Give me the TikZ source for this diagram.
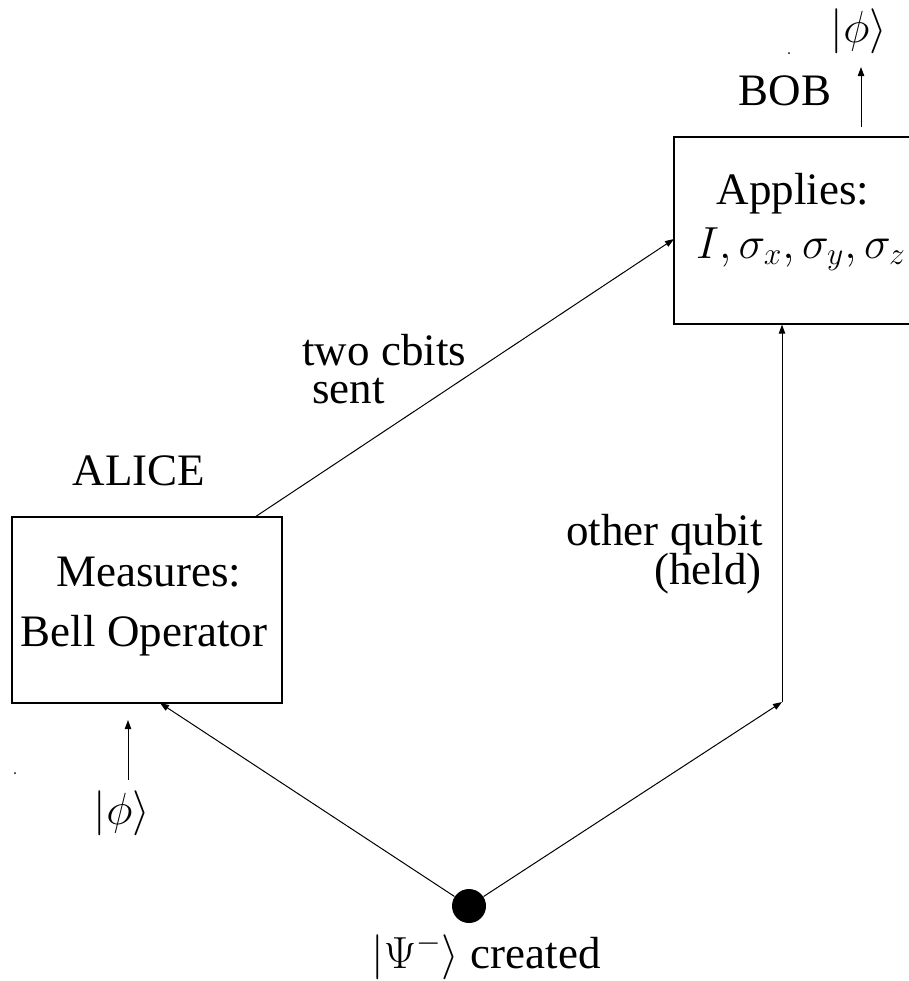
\RequirePackage{fix-cm}
\documentclass[tikz,border=0pt]{standalone}
\usepackage{fontspec}
\setmainfont{Liberation Serif}
\usetikzlibrary{arrows.meta}

\begin{document}
\begin{tikzpicture}[
        x=0.5pt, y=-0.5pt,
        font=\fontsize{22.5}{27}\selectfont,
        party/.style={draw, line width=0.6pt, inner sep=0pt},
        word/.style={inner sep=0pt, anchor=base},
        arrow/.style={-{Triangle[length=4.5pt, width=3.2pt]}, line width=0.5pt},
        speck/.style={circle, fill, inner sep=0pt, minimum size=1pt}
    ]
        \useasboundingbox (0,0) rectangle (909,981);

        % Boxes
        \node[party, minimum width=135pt, minimum height=93pt] (alice) at (147,610) {};
        \node[word] (alicetop) at (149,586) {Measures:};
        \node[word] (alicebot) at (144,646) {Bell Operator};
        \node[word] (alicename) at (139,485) {ALICE};

        \node[party, minimum width=120pt, minimum height=93.5pt] (bob) at (794,230.5) {};
        \node[word] (bobtop) at (793,204) {Applies:};
        \node[word] (bobbot) at (801,258) {$I,\sigma_x,\sigma_y,\sigma_z$};
        \node[word] (bobname) at (785,105) {BOB};

        % Source of the pair
        \node[circle, fill, minimum size=17pt, inner sep=0pt] (src) at (469,906) {};
        \node[word] (srclabel) at (486,968) {$|\Psi^-\rangle$ created};

        % Input and output states
        \node[word] (phiin) at (122,824) {$|\phi\rangle$};
        \node[word] (phiout) at (859,42) {$|\phi\rangle$};
        \coordinate (intail) at (128,780);
        \coordinate (inhead) at (128,720);
        \coordinate (outtail) at (861,127);
        \coordinate (outhead) at (861,67);
        \draw[arrow] (intail) -- (inhead);
        \draw[arrow] (outtail) -- (outhead);

        % Qubit paths
        \coordinate (aliceIn) at (160,703);
        \coordinate (turn) at (782,702);
        \draw[arrow] (src) -- (aliceIn);
        \draw[arrow] (src) -- (turn);
        \draw[arrow] (turn) -- (turn |- bob.south);
        \node[word, anchor=base east] (heldtop) at (763,545) {other qubit};
        \node[word, anchor=base east] (heldbot) at (762,584) {(held)};

        % Classical channel
        \coordinate (aliceOut) at (255,517);
        \coordinate (bobIn) at (674,239);
        \draw[arrow] (aliceOut) -- (bobIn);
        \node[word, anchor=base west] (senttop) at (302,365) {two cbits};
        \node[word, anchor=base west] (sentbot) at (312,403) {sent};

        % Stray dots
        \node[speck] (dotA) at (789,53) {};
        \node[speck] (dotB) at (15,773) {};
    \end{tikzpicture}
\end{document}
